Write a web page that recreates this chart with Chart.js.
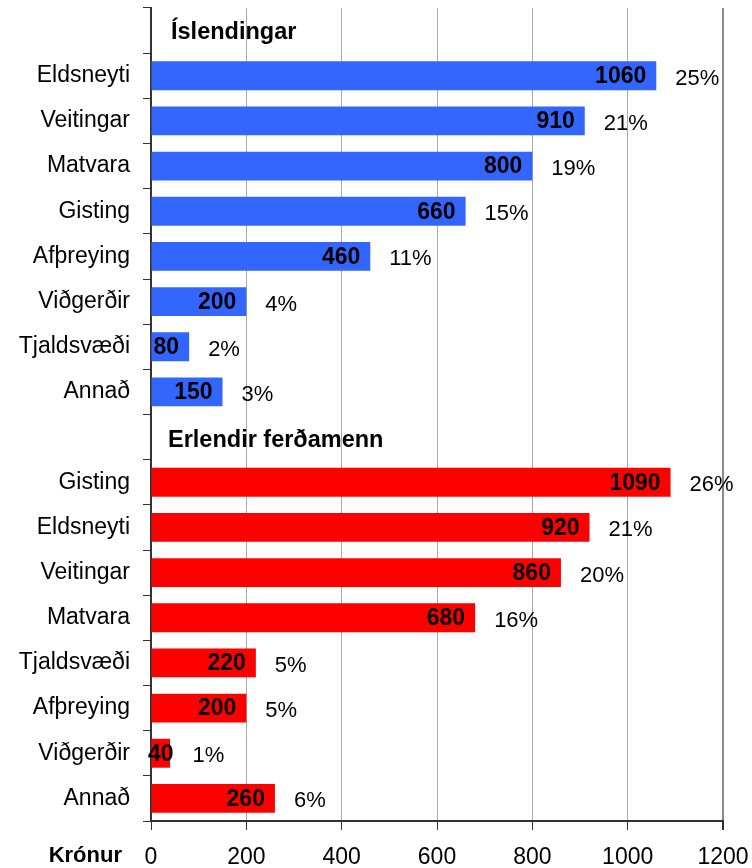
<!DOCTYPE html>
<html>
<head>
<meta charset="utf-8">
<script src="https://cdn.jsdelivr.net/npm/chart.js@4"></script>
<style>
  html, body { margin: 0; padding: 0; background: #fff; }
  #wrap { width: 752px; height: 868px; position: relative; }
</style>
</head>
<body>
<div id="wrap"><canvas id="chart"></canvas></div>
<script>
// data
const groupTitles = ['Íslendingar', 'Erlendir ferðamenn'];
const islCategories = ['Eldsneyti', 'Veitingar', 'Matvara', 'Gisting', 'Afþreying', 'Viðgerðir', 'Tjaldsvæði', 'Annað'];
const islValues = [1060, 910, 800, 660, 460, 200, 80, 150];
const islShares = [25, 21, 19, 15, 11, 4, 2, 3];
const erlCategories = ['Gisting', 'Eldsneyti', 'Veitingar', 'Matvara', 'Tjaldsvæði', 'Afþreying', 'Viðgerðir', 'Annað'];
const erlValues = [1090, 920, 860, 680, 220, 200, 40, 260];
const erlShares = [26, 21, 20, 16, 5, 5, 1, 6];
const xTicks = [0, 200, 400, 600, 800, 1000, 1200];
const axisTitle = 'Krónur';

const FONT = '"Liberation Sans", Arial, sans-serif';

// one empty row on top of each group holds the group title
const labels = [''].concat(islCategories, [''], erlCategories);
const blueData = [null].concat(islValues, [null], erlCategories.map(() => null));
const redData = [null].concat(islCategories.map(() => null), [null], erlValues);
const shares = [null].concat(islShares, [null], erlShares);

const labelPlugin = {
    id: 'barLabels',
    afterDatasetsDraw(chart) {
        const ctx = chart.ctx;
        const area = chart.chartArea;
        const y = chart.scales.y;
        ctx.save();
        ctx.fillStyle = '#000';
        ctx.textBaseline = 'middle';

        // group titles
        ctx.font = 'bold 23.5px ' + FONT;
        ctx.textAlign = 'left';
        ctx.fillText(groupTitles[0], area.left + 20, y.getPixelForValue(0) + 2);
        ctx.fillText(groupTitles[1], area.left + 17, y.getPixelForValue(9) + 3);

        chart.data.datasets.forEach((ds, di) => {
            const meta = chart.getDatasetMeta(di);
            meta.data.forEach((bar, i) => {
                const v = ds.data[i];
                if (v == null) return;
                // value inside the bar end
                ctx.font = 'bold 23px ' + FONT;
                const w = ctx.measureText(String(v)).width;
                let left = bar.x - 10 - w;
                if (left < area.left - 3) left = area.left - 3;
                ctx.textAlign = 'left';
                ctx.fillText(String(v), left, bar.y + 1);
                // share after the bar
                ctx.font = '22px ' + FONT;
                ctx.fillText(shares[i] + '%', Math.max(bar.x, left + w) + 19, bar.y + 3);
            });
        });

        // axis title
        ctx.font = 'bold 22px ' + FONT;
        ctx.textAlign = 'right';
        ctx.fillText(axisTitle, 122, 856);
        ctx.restore();
    }
};

const ctx = document.getElementById('chart').getContext('2d');
new Chart(ctx, {
    type: 'bar',
    data: {
        labels: labels,
        datasets: [
            { data: blueData, backgroundColor: '#3366ff', grouped: false, barPercentage: 0.64, categoryPercentage: 1 },
            { data: redData, backgroundColor: '#ff0000', grouped: false, barPercentage: 0.64, categoryPercentage: 1 }
        ]
    },
    options: {
        indexAxis: 'y',
        responsive: true,
        maintainAspectRatio: false,
        animation: false,
        layout: { padding: { top: 8, right: 29, left: 0, bottom: 0 } },
        plugins: {
            legend: { display: false },
            tooltip: { enabled: false }
        },
        scales: {
            x: {
                min: 0,
                max: 1200,
                afterBuildTicks: (scale) => { scale.ticks = xTicks.map(v => ({ value: v })); },
                afterFit: (scale) => {
                    scale.height = 47;
                    scale.paddingLeft = 0;
                    scale.paddingRight = 0;
                },
                grid: {
                    color: (c) => c.tick && c.tick.value === 1200 ? '#888' : '#aaa',
                    lineWidth: (c) => c.tick && c.tick.value === 1200 ? 2 : 1,
                    tickLength: 9,
                    tickColor: '#333'
                },
                border: { color: '#333', width: 2 },
                ticks: {
                    color: '#000',
                    font: { family: FONT, size: 23 },
                    padding: 14,
                    maxRotation: 0,
                    callback: (v) => String(v)
                }
            },
            y: {
                afterFit: (scale) => {
                    scale.width = 151;
                    scale.paddingTop = 0;
                    scale.paddingBottom = 0;
                },
                grid: {
                    drawOnChartArea: false,
                    offset: true,
                    tickLength: 8,
                    tickColor: '#333'
                },
                border: { color: '#333', width: 2 },
                ticks: {
                    color: '#000',
                    font: { family: FONT, size: 23 },
                    padding: 13,
                    autoSkip: false
                }
            }
        }
    },
    plugins: [labelPlugin]
});
</script>
</body>
</html>
